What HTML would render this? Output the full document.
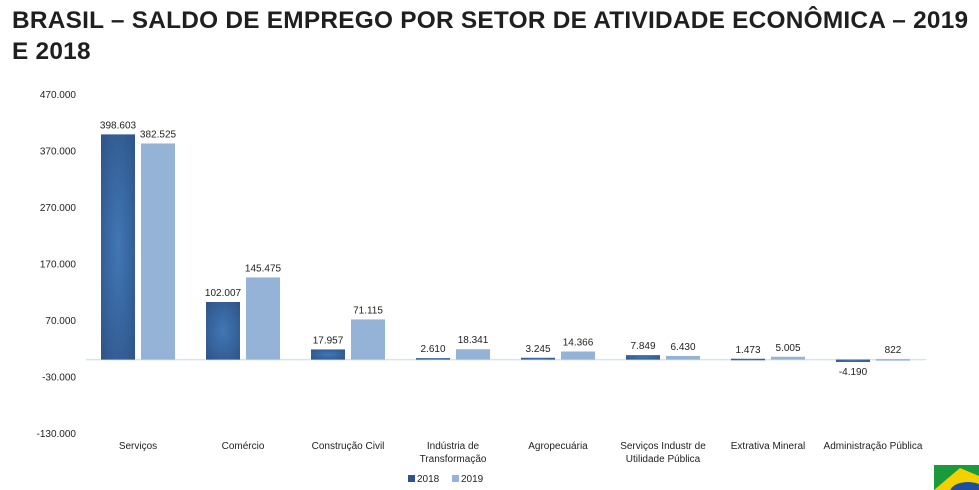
<!DOCTYPE html>
<html><head><meta charset="utf-8">
<style>
body{margin:0;width:979px;height:490px;background:#fff;overflow:hidden;font-family:"Liberation Sans",sans-serif;position:relative}
#title{position:absolute;left:12px;top:5px;width:975px;white-space:nowrap;font-weight:bold;font-size:24.4px;line-height:31px;color:#1f1f1f;letter-spacing:0.25px}
svg{position:absolute;left:0;top:0}
text{font-family:"Liberation Sans",sans-serif;fill:#222}
</style></head><body>
<div id="title">BRASIL – SALDO DE EMPREGO POR SETOR DE ATIVIDADE ECONÔMICA – 2019<br>E 2018</div>
<svg id="chart" width="979" height="490">
<defs>
<radialGradient id="g18" cx="50%" cy="50%" r="70%">
<stop offset="0" stop-color="#4177b5"/><stop offset="1" stop-color="#2e5488"/>
</radialGradient>
</defs>
</svg>
<svg width="979" height="490" style="pointer-events:none">
<g>
<rect x="934" y="465" width="45" height="25" fill="#1a9a3a"/>
<polygon points="934,490 960,468 979,476 979,490" fill="#f5d000"/>
<ellipse cx="968" cy="492" rx="18" ry="10" fill="#1b4fa0"/>
</g>
</svg>
<script>
const categories=[["Serviços"],["Comércio"],["Construção Civil"],["Indústria de","Transformação"],["Agropecuária"],["Serviços Industr de","Utilidade Pública"],["Extrativa Mineral"],["Administração Pública"]];
const values2018=[398603,102007,17957,2610,3245,7849,1473,-4190];
const values2019=[382525,145475,71115,18341,14366,6430,5005,822];
const ticks=[470000,370000,270000,170000,70000,-30000,-130000];
const NS="http://www.w3.org/2000/svg";
const svg=document.getElementById('chart');
const x0=86,band=105;
const y=v=>359.6-v*0.000565;
function fmt(v){const s=Math.abs(v).toString().replace(/\B(?=(\d{3})+(?!\d))/g,'.');return (v<0?'-':'')+s;}
function mk(t,a){const e=document.createElementNS(NS,t);for(const k in a)e.setAttribute(k,a[k]);svg.appendChild(e);return e;}
ticks.forEach(t=>{
 const e=mk('text',{x:76,y:y(t)+4,'text-anchor':'end','font-size':'10'});
 e.textContent=fmt(t);
 
 
});
const ax=mk('line',{x1:x0,x2:x0+band*8,y1:y(0),y2:y(0),stroke:'#d9e2ef','stroke-width':'1.5'});


categories.forEach((c,i)=>{
 [[values2018[i],15,'url(#g18)'],[values2019[i],55,'#95b3d7']].forEach(([v,off,f],j)=>{
  const bx=x0+i*band+off;
  const top=Math.min(y(v),y(0)),h=Math.max(Math.abs(y(v)-y(0)),1.5);
  const r=mk('rect',{x:bx,y:top,width:34,height:h,fill:f});
  
  
  const ly=v>=0?top-6:top+h+13;
  const t=mk('text',{x:bx+17,y:ly,'text-anchor':'middle','font-size':'10'});
  t.textContent=fmt(v);
  
  
 });
 c.forEach((line,k)=>{
  const t=mk('text',{x:x0+i*band+52,y:449+k*13,'text-anchor':'middle','font-size':'10'});
  t.textContent=line;
  
  
 });
});
[['2018','#2e5488',408],['2019','#95b3d7',452]].forEach(([n,c,lx])=>{
 const r=mk('rect',{x:lx,y:475,width:7,height:7,fill:c});
 
 
 const t=mk('text',{x:lx+9,y:482,'font-size':'10'});
 t.textContent=n;
 
 
});
</script>
</body></html>
